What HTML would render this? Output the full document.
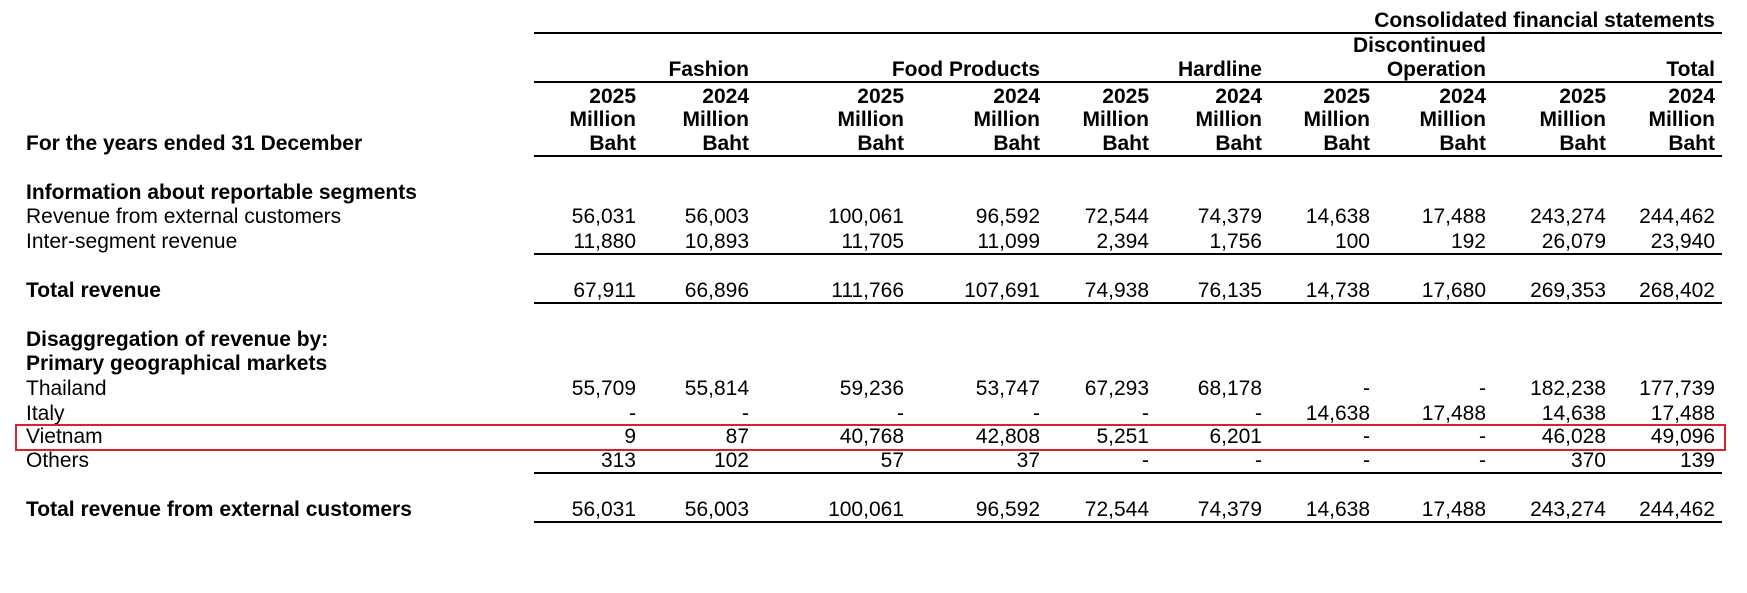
<!DOCTYPE html>
<html><head><meta charset="utf-8"><style>
html,body{margin:0;padding:0;background:#fff;}
body{width:1747px;height:593px;position:relative;overflow:hidden;font-family:"Liberation Sans",Arial,sans-serif;font-size:21px;color:#000;}
.r{position:absolute;left:0;width:1747px;height:24px;line-height:24px;}
.r span{position:absolute;white-space:nowrap;}
.b{font-weight:bold;}
.l{left:26px;}
.c1{right:1111px}.c2{right:998px}.c3{right:843px}.c4{right:707px}.c5{right:598px}
.c6{right:485px}.c7{right:377px}.c8{right:261px}.c9{right:141px}.c10{right:32px}
.ln{position:absolute;left:534px;width:1188px;height:2px;background:#000;}
</style></head><body>
<div class="r b" style="top:9px"><span style="right:32px">Consolidated financial statements</span></div>
<div class="ln" style="top:32px"></div>
<div class="r b" style="top:34px"><span class="c8">Discontinued</span></div>
<div class="r b" style="top:58px"><span class="c2">Fashion</span><span class="c4">Food Products</span><span class="c6">Hardline</span><span class="c8">Operation</span><span class="c10">Total</span></div>
<div class="ln" style="top:81px"></div>
<div class="r b" style="top:85px"><span class="c1">2025</span><span class="c2">2024</span><span class="c3">2025</span><span class="c4">2024</span><span class="c5">2025</span><span class="c6">2024</span><span class="c7">2025</span><span class="c8">2024</span><span class="c9">2025</span><span class="c10">2024</span></div>
<div class="r b" style="top:108px"><span class="c1">Million</span><span class="c2">Million</span><span class="c3">Million</span><span class="c4">Million</span><span class="c5">Million</span><span class="c6">Million</span><span class="c7">Million</span><span class="c8">Million</span><span class="c9">Million</span><span class="c10">Million</span></div>
<div class="r b" style="top:132px"><span class="l">For the years ended 31 December</span><span class="c1">Baht</span><span class="c2">Baht</span><span class="c3">Baht</span><span class="c4">Baht</span><span class="c5">Baht</span><span class="c6">Baht</span><span class="c7">Baht</span><span class="c8">Baht</span><span class="c9">Baht</span><span class="c10">Baht</span></div>
<div class="ln" style="top:155px"></div>

<div class="r b" style="top:181px"><span class="l">Information about reportable segments</span></div>
<div class="r" style="top:205px"><span class="l">Revenue from external customers</span><span class="c1">56,031</span><span class="c2">56,003</span><span class="c3">100,061</span><span class="c4">96,592</span><span class="c5">72,544</span><span class="c6">74,379</span><span class="c7">14,638</span><span class="c8">17,488</span><span class="c9">243,274</span><span class="c10">244,462</span></div>
<div class="r" style="top:230px"><span class="l">Inter-segment revenue</span><span class="c1">11,880</span><span class="c2">10,893</span><span class="c3">11,705</span><span class="c4">11,099</span><span class="c5">2,394</span><span class="c6">1,756</span><span class="c7">100</span><span class="c8">192</span><span class="c9">26,079</span><span class="c10">23,940</span></div>
<div class="ln" style="top:253px"></div>
<div class="r" style="top:279px"><span class="l b">Total revenue</span><span class="c1">67,911</span><span class="c2">66,896</span><span class="c3">111,766</span><span class="c4">107,691</span><span class="c5">74,938</span><span class="c6">76,135</span><span class="c7">14,738</span><span class="c8">17,680</span><span class="c9">269,353</span><span class="c10">268,402</span></div>
<div class="ln" style="top:302px"></div>

<div class="r b" style="top:328px"><span class="l">Disaggregation of revenue by:</span></div>
<div class="r b" style="top:352px"><span class="l">Primary geographical markets</span></div>
<div class="r" style="top:377px"><span class="l">Thailand</span><span class="c1">55,709</span><span class="c2">55,814</span><span class="c3">59,236</span><span class="c4">53,747</span><span class="c5">67,293</span><span class="c6">68,178</span><span class="c7">-</span><span class="c8">-</span><span class="c9">182,238</span><span class="c10">177,739</span></div>
<div class="r" style="top:402px"><span class="l">Italy</span><span class="c1">-</span><span class="c2">-</span><span class="c3">-</span><span class="c4">-</span><span class="c5">-</span><span class="c6">-</span><span class="c7">14,638</span><span class="c8">17,488</span><span class="c9">14,638</span><span class="c10">17,488</span></div>
<div class="r" style="top:425px"><span class="l">Vietnam</span><span class="c1">9</span><span class="c2">87</span><span class="c3">40,768</span><span class="c4">42,808</span><span class="c5">5,251</span><span class="c6">6,201</span><span class="c7">-</span><span class="c8">-</span><span class="c9">46,028</span><span class="c10">49,096</span></div>
<div class="r" style="top:449px"><span class="l">Others</span><span class="c1">313</span><span class="c2">102</span><span class="c3">57</span><span class="c4">37</span><span class="c5">-</span><span class="c6">-</span><span class="c7">-</span><span class="c8">-</span><span class="c9">370</span><span class="c10">139</span></div>
<div class="ln" style="top:472px"></div>
<div class="r" style="top:498px"><span class="l b">Total revenue from external customers</span><span class="c1">56,031</span><span class="c2">56,003</span><span class="c3">100,061</span><span class="c4">96,592</span><span class="c5">72,544</span><span class="c6">74,379</span><span class="c7">14,638</span><span class="c8">17,488</span><span class="c9">243,274</span><span class="c10">244,462</span></div>
<div class="ln" style="top:521px"></div>

<div style="position:absolute;left:15px;top:424px;width:1707px;height:23px;border:2.5px solid #d9202f;"></div>
</body></html>
